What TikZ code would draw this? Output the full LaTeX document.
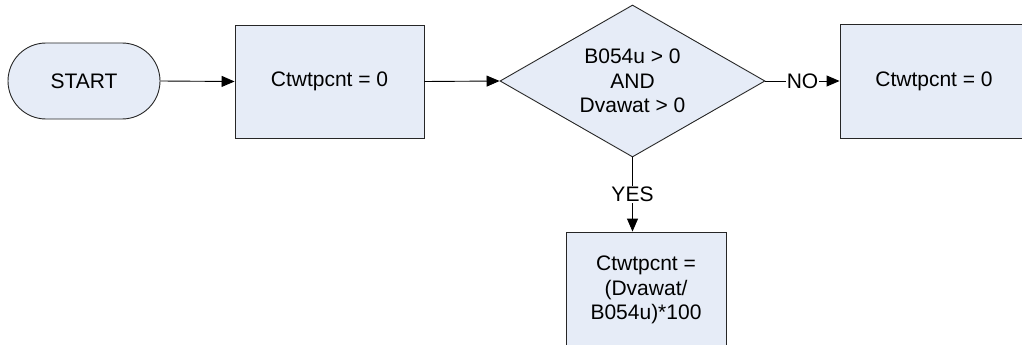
\documentclass[tikz,border=0pt]{standalone}
\usepackage{fontspec}
\setmainfont{Liberation Sans}
\usetikzlibrary{shapes.geometric,arrows.meta}
\definecolor{boxfill}{RGB}{230,236,247}
\begin{document}
\begin{tikzpicture}[x=1pt,y=1pt,
  base/.style={draw=black!85, line width=0.9pt, fill=boxfill, font=\fontsize{21}{24.5}\selectfont, align=center, inner sep=0pt},
  procbox/.style={base, rectangle},
  termbox/.style={base, rectangle, rounded corners=38pt},
  decbox/.style={base, diamond, shape aspect=1.74},
  conn/.style={line width=0.9pt, -{Triangle[length=13pt,width=11pt]}},
  lbl/.style={fill=white, inner sep=1pt, font=\fontsize{21}{24}\selectfont}]
\useasboundingbox (0,0) rectangle (1022,-345);
\clip (0,0) rectangle (1022,-345);
\node[termbox, minimum width=152pt, minimum height=76pt] (start) at (84,-81) {START};
\node[procbox, minimum width=189pt, minimum height=113pt] (init) at (329.5,-81.5) {Ctwtpcnt = 0};
\node[decbox, minimum width=265pt, minimum height=152pt] (dec) at (632.5,-81) {B054u > 0\\AND\\Dvawat > 0};
\node[procbox, minimum width=188pt, minimum height=114pt] (no) at (934,-81) {Ctwtpcnt = 0};
\node[procbox, minimum width=160pt, minimum height=116pt] (yes) at (646,-290) {Ctwtpcnt =\\(Dvawat/\\B054u)*100};
\draw[conn] (start.east) -- (init.west);
\draw[conn] (init.east) -- (dec.west);
\draw[conn] (dec.east) -- node[lbl] {NO} (no.west);
\draw[conn] (dec.south) -- node[lbl] {YES} (dec.south |- yes.north);
\end{tikzpicture}
\end{document}
